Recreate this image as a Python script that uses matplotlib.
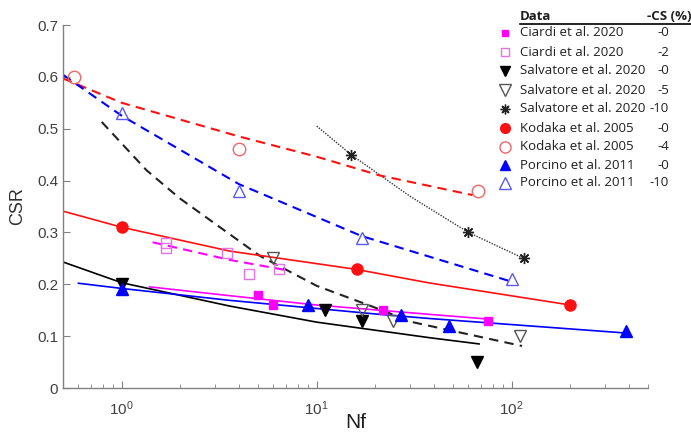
import matplotlib
matplotlib.use("Agg")
import matplotlib.pyplot as plt
from matplotlib.lines import Line2D
from matplotlib.ticker import LogLocator, NullFormatter

# measured points (Nf, CSR)
ciardi0_n = [5.0, 6.0, 22, 76]
ciardi0_csr = [0.18, 0.16, 0.15, 0.13]
ciardi2_n = [1.68, 1.68, 3.45, 4.5, 6.4]
ciardi2_csr = [0.28, 0.27, 0.26, 0.22, 0.23]
salv0_n = [1.0, 11, 17, 66]
salv0_csr = [0.20, 0.15, 0.13, 0.05]
salv5_n = [6.0, 17, 24.6, 110]
salv5_csr = [0.25, 0.15, 0.13, 0.10]
salv10_n = [15, 60, 115]
salv10_csr = [0.45, 0.30, 0.25]
kod0_n = [1.0, 16, 200]
kod0_csr = [0.31, 0.23, 0.16]
kod4_n = [0.57, 4.0, 67]
kod4_csr = [0.60, 0.46, 0.38]
porc0_n = [1.0, 9.0, 27, 47.5, 385]
porc0_csr = [0.19, 0.16, 0.14, 0.12, 0.11]
porc10_n = [1.0, 4.0, 17, 100]
porc10_csr = [0.53, 0.38, 0.29, 0.21]

# fitted trend lines
fit_ciardi0_n = [1.39, 3.58, 10, 37.9, 75]
fit_ciardi0_csr = [0.195, 0.178, 0.160, 0.142, 0.133]
fit_ciardi2_n = [1.44, 3.58, 6.8]
fit_ciardi2_csr = [0.281, 0.247, 0.228]
fit_salv0_n = [0.5, 1.0, 3.58, 10, 37.9, 68]
fit_salv0_csr = [0.243, 0.203, 0.158, 0.127, 0.097, 0.085]
fit_salv5_n = [0.79, 1.34, 1.98, 5.1, 10, 19.3, 31, 113]
fit_salv5_csr = [0.513, 0.42, 0.366, 0.255, 0.197, 0.157, 0.127, 0.081]
fit_salv10_n = [10, 15, 30, 60, 115]
fit_salv10_csr = [0.505, 0.45, 0.37, 0.30, 0.25]
fit_kod0_n = [0.5, 1.0, 3.58, 15.8, 37.9, 200]
fit_kod0_csr = [0.341, 0.31, 0.264, 0.229, 0.2025, 0.16]
fit_kod4_n = [0.5, 1.0, 4.0, 10, 21, 63]
fit_kod4_csr = [0.597, 0.55, 0.485, 0.446, 0.41, 0.372]
fit_porc0_n = [0.6, 1.0, 3.58, 21, 37.9, 385]
fit_porc0_csr = [0.202, 0.192, 0.169, 0.142, 0.134, 0.106]
fit_porc10_n = [0.5, 1.0, 4.0, 17, 100]
fit_porc10_csr = [0.604, 0.525, 0.393, 0.293, 0.205]

names = ["Ciardi et al. 2020", "Ciardi et al. 2020", "Salvatore et al. 2020",
         "Salvatore et al. 2020", "Salvatore et al. 2020", "Kodaka et al. 2005",
         "Kodaka et al. 2005", "Porcino et al. 2011", "Porcino et al. 2011"]
cs_vals = ["-0", "-2", "-0", "-5", "-10", "-0", "-4", "-0", "-10"]

W, H = 691, 434
fig = plt.figure(figsize=(W / 100, H / 100), dpi=100)
ax = fig.add_axes([63 / W, 1 - 388 / H, (648 - 63) / W, (388 - 25) / H])

mag, red, blue = "#ff00ff", "#ff1010", "#0000ff"
dash = (0, (4.5, 3))

# lines
ax.plot(fit_ciardi0_n, fit_ciardi0_csr, color=mag, lw=1.2)
ax.plot(fit_ciardi2_n, fit_ciardi2_csr, color=mag, lw=1.5, ls=dash)
ax.plot(fit_salv0_n, fit_salv0_csr, color="k", lw=1.2)
ax.plot(fit_salv5_n, fit_salv5_csr, color="#222222", lw=1.5, ls=dash)
ax.plot(fit_salv10_n, fit_salv10_csr, color="#333333", lw=1.0, ls=(0, (1, 1)))
ax.plot(fit_kod0_n, fit_kod0_csr, color=red, lw=1.2)
ax.plot(fit_kod4_n, fit_kod4_csr, color=red, lw=1.5, ls=dash)
ax.plot(fit_porc0_n, fit_porc0_csr, color=blue, lw=1.2)
ax.plot(fit_porc10_n, fit_porc10_csr, color=blue, lw=1.5, ls=dash)

# markers
styles = [
    dict(marker="s", ms=6, mfc=mag, mec=mag),
    dict(marker="s", ms=7, mfc="none", mec="#e673e6", mew=1),
    dict(marker="v", ms=8, mfc="k", mec="k"),
    dict(marker="v", ms=9, mfc="none", mec="#555555", mew=1),
    dict(marker=(8, 2, 0), ms=8, mfc="k", mec="#222222", mew=1),
    dict(marker="o", ms=8, mfc=red, mec=red),
    dict(marker="o", ms=9, mfc="none", mec="#f06666", mew=1),
    dict(marker="^", ms=8, mfc=blue, mec=blue),
    dict(marker="^", ms=9, mfc="none", mec="#5a5af0", mew=1),
]
series = [(ciardi0_n, ciardi0_csr), (ciardi2_n, ciardi2_csr), (salv0_n, salv0_csr),
          (salv5_n, salv5_csr), (salv10_n, salv10_csr), (kod0_n, kod0_csr),
          (kod4_n, kod4_csr), (porc0_n, porc0_csr), (porc10_n, porc10_csr)]
for (xs, ys), st in zip(series, styles):
    ax.plot(xs, ys, ls="none", clip_on=False, zorder=3, **st)

ax.set_xscale("log")
ax.set_xlim(0.5, 500)
ax.set_ylim(0, 0.7)
yt = [0, 0.1, 0.2, 0.3, 0.4, 0.5, 0.6, 0.7]
ax.set_yticks(yt)
ax.set_yticklabels(["0"] + ["%.1f" % v for v in yt[1:]])
ax.xaxis.set_minor_locator(LogLocator(base=10, subs=range(2, 10)))
ax.xaxis.set_minor_formatter(NullFormatter())

gray = "#808080"
for s in ["top", "right"]:
    ax.spines[s].set_visible(False)
for s in ["left", "bottom"]:
    ax.spines[s].set_color(gray)
    ax.spines[s].set_linewidth(1.0)
ax.tick_params(which="both", direction="in", colors=gray, labelcolor="#404040",
               labelsize=11)
ax.tick_params(which="major", length=5)
ax.tick_params(which="minor", length=3)
ax.tick_params(axis="x", pad=8)
for lab in ax.get_xticklabels() + ax.get_yticklabels():
    lab.set_family("Liberation Sans")
ax.set_xlabel("Nf", fontsize=15, family="Liberation Sans", color="#202020")
ax.xaxis.set_label_coords(0.5, -0.068)
ax.set_ylabel("CSR", fontsize=13, family="Liberation Sans", color="#303030", labelpad=8)

# legend table
def fx(px):
    return px / W

def fy(py):
    return 1 - py / H

lfont = dict(family="Open Sans", fontsize=9.5, color="#202020", va="center")
fig.text(fx(520), fy(16), "Data", fontweight="bold", ha="left", **lfont)
fig.text(fx(647), fy(16), "-CS (%)", fontweight="bold", ha="left", **lfont)
fig.add_artist(Line2D([fx(520), fx(691)], [fy(23.5), fy(23.5)], color="k", lw=1.2))
row_y = [33, 52, 71, 90, 109, 128, 147, 165, 183]
for py, name, cs, st in zip(row_y, names, cs_vals, styles):
    st2 = dict(st)
    st2["ms"] = st["ms"] - 1
    fig.add_artist(Line2D([fx(505)], [fy(py)], ls="none", **st2))
    fig.text(fx(520), fy(py), name, ha="left", **lfont)
    fig.text(fx(669), fy(py), cs, ha="right", **lfont)

fig.savefig("out.png", dpi=100)
